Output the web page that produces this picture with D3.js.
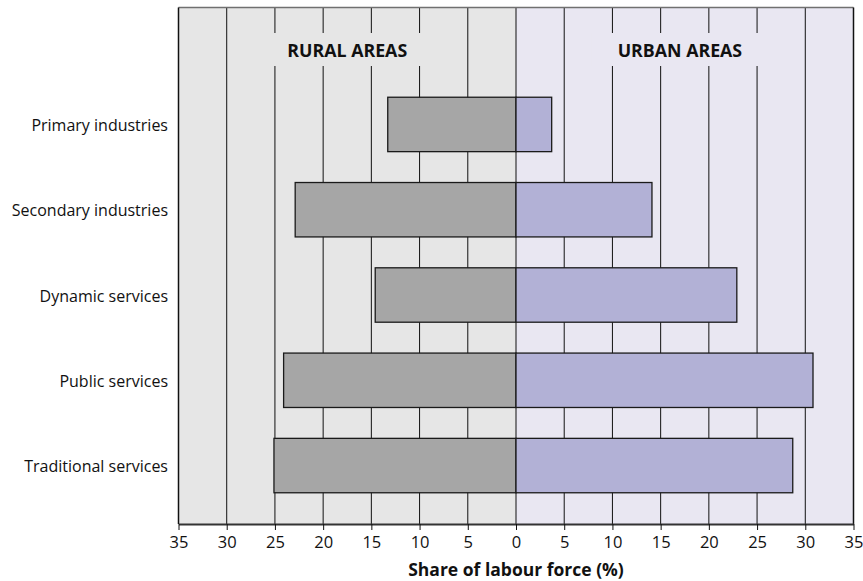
<!DOCTYPE html>
<html>
<head>
<meta charset="utf-8">
<script src="https://cdn.jsdelivr.net/npm/d3@7"></script>
<style>
  html, body { margin: 0; padding: 0; background: #ffffff; }
  svg { display: block; }
  text { font-family: "Open Sans", "Noto Sans", sans-serif; fill: #111; }
</style>
</head>
<body>
<svg id="chart" width="863" height="581"></svg>
<script>
const categories = ["Primary industries", "Secondary industries", "Dynamic services", "Public services", "Traditional services"];
const ruralValues = [13.3, 22.9, 14.6, 24.1, 25.1];
const urbanValues = [3.7, 14.1, 22.9, 30.8, 28.7];
const tickValues = [0, 5, 10, 15, 20, 25, 30, 35];
const panelLabels = ["RURAL AREAS", "URBAN AREAS"];
const axisTitle = "Share of labour force (%)";

(function () {
const svg = d3.select("#chart");
const pLeft = 178.5, zero = 516, pRight = 853.5, pTop = 7.5, pBottom = 524;

const xL = d3.scaleLinear().domain([0, 35]).range([zero, pLeft]);
const xR = d3.scaleLinear().domain([0, 35]).range([zero, pRight]);
const y = d3.scaleBand().domain(categories).range([81.8, 508.2]).paddingInner(0.362).paddingOuter(0.181);

// backgrounds
svg.append("rect").attr("x", pLeft).attr("y", pTop).attr("width", zero - pLeft).attr("height", pBottom - pTop).attr("fill", "#e6e6e6");
svg.append("rect").attr("x", zero).attr("y", pTop).attr("width", pRight - zero).attr("height", pBottom - pTop).attr("fill", "#e9e7f2");

// gridlines
const grid = svg.append("g");
tickValues.filter(v => v > 0 && v < 35).forEach(v => {
  grid.append("line").attr("x1", xL(v)).attr("x2", xL(v)).attr("y1", pTop).attr("y2", pBottom).attr("stroke", "#111").attr("stroke-width", 1);
  grid.append("line").attr("x1", xR(v)).attr("x2", xR(v)).attr("y1", pTop).attr("y2", pBottom).attr("stroke", "#111").attr("stroke-width", 1);
});

// panel label boxes covering gridlines
const labelFills = ["#e6e6e6", "#e9e7f2"];
panelLabels.forEach((t, i) => {
  const cx = i === 0 ? xL(17.5) : xR(17);
  svg.append("rect").attr("x", cx - 88).attr("y", 33).attr("width", 176).attr("height", 33).attr("fill", labelFills[i]);
  svg.append("text").attr("x", cx).attr("y", 56.5).attr("text-anchor", "middle")
    .style("font-weight", "bold").style("font-size", "17.8px").text(t);
});

// zero line
svg.append("line").attr("x1", zero).attr("x2", zero).attr("y1", pTop).attr("y2", pBottom).attr("stroke", "#111").attr("stroke-width", 1);

// bars
svg.append("g").selectAll("rect").data(categories).join("rect")
  .attr("x", (d, i) => xL(ruralValues[i]))
  .attr("y", d => y(d))
  .attr("width", (d, i) => zero - xL(ruralValues[i]))
  .attr("height", y.bandwidth())
  .attr("fill", "#a6a6a6").attr("stroke", "#1a1a1a").attr("stroke-width", 1.3);
svg.append("g").selectAll("rect").data(categories).join("rect")
  .attr("x", zero)
  .attr("y", d => y(d))
  .attr("width", (d, i) => xR(urbanValues[i]) - zero)
  .attr("height", y.bandwidth())
  .attr("fill", "#b2b1d6").attr("stroke", "#1a1a1a").attr("stroke-width", 1.3);

// frame
svg.append("line").attr("x1", pLeft).attr("x2", pRight).attr("y1", pTop).attr("y2", pTop).attr("stroke", "#707070").attr("stroke-width", 1.5);
svg.append("line").attr("x1", pLeft).attr("x2", pLeft).attr("y1", pTop).attr("y2", pBottom).attr("stroke", "#111").attr("stroke-width", 1.5);
svg.append("line").attr("x1", pRight).attr("x2", pRight).attr("y1", pTop).attr("y2", pBottom).attr("stroke", "#111").attr("stroke-width", 1.5);

// category labels
svg.append("g").selectAll("text").data(categories).join("text")
  .attr("x", 168).attr("y", d => y(d) + y.bandwidth() / 2 + 1)
  .attr("dy", "0.35em").attr("text-anchor", "end")
  .style("font-size", "16px").text(d => d);

// axes
const axL = svg.append("g").attr("transform", `translate(0,${pBottom})`)
  .call(d3.axisBottom(xL).tickValues(tickValues.filter(v => v > 0)).tickSize(6).tickSizeOuter(0));
const axR = svg.append("g").attr("transform", `translate(0,${pBottom})`)
  .call(d3.axisBottom(xR).tickValues(tickValues).tickSize(6).tickSizeOuter(0));
[axL, axR].forEach(ax => {
  ax.select(".domain").attr("stroke", "#333").attr("stroke-width", 2);
  ax.selectAll(".tick line").attr("stroke", "#111").attr("stroke-width", 1);
  ax.selectAll(".tick text").attr("y", 12).style("font-size", "16.5px")
    .style("font-family", '"Open Sans", "Noto Sans", sans-serif').attr("fill", "#111");
});

// axis title
svg.append("text").attr("x", zero).attr("y", 576).attr("text-anchor", "middle")
  .style("font-weight", "bold").style("font-size", "17.5px").text(axisTitle);
})();
</script>
</body>
</html>
